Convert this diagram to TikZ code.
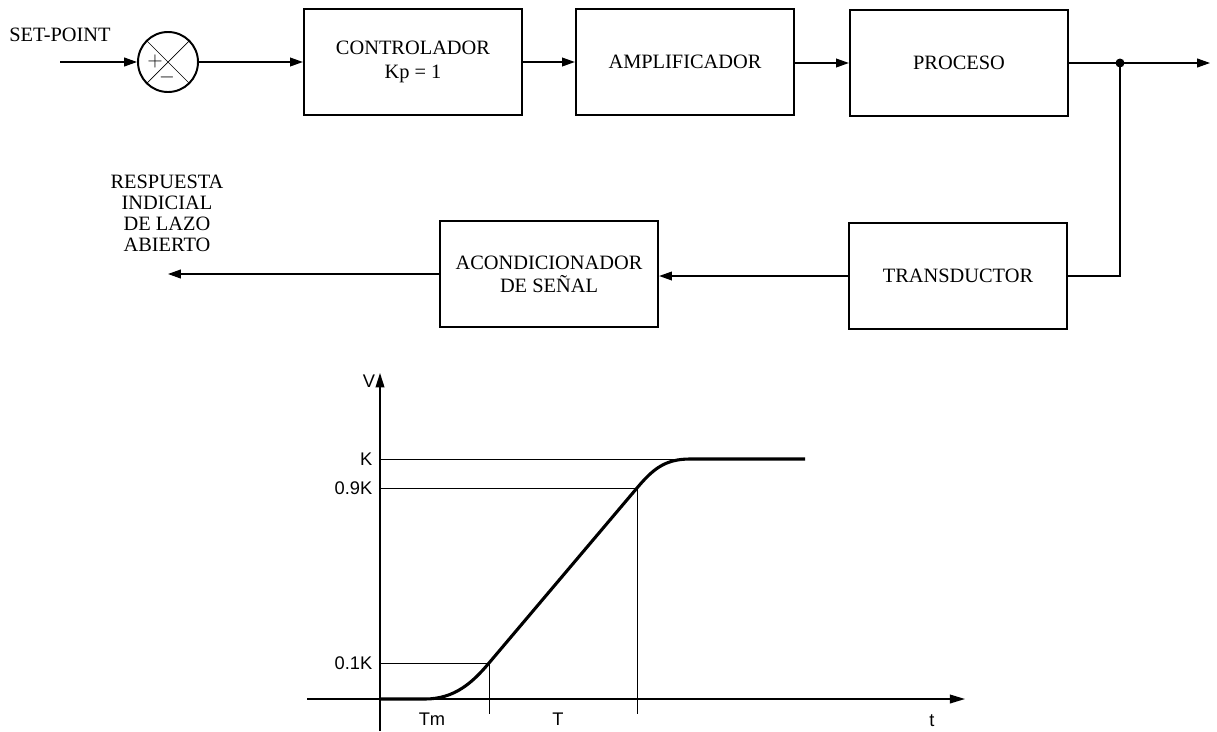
\documentclass[tikz,border=0pt]{standalone}
\usepackage{fontspec}
\setmainfont{Liberation Serif}
\setsansfont{Liberation Sans}
\usetikzlibrary{arrows.meta}

\tikzset{
  blk/.style={draw,line width=1.6pt,align=center,inner sep=0pt,
    minimum width=5.45cm,minimum height=2.65cm,
    font=\fontsize{14.5}{16.5}\selectfont},
  flow/.style={line width=0.9pt,-{Triangle[length=3.2mm,width=2.2mm]}},
  wire/.style={line width=0.9pt},
  guide/.style={line width=0.6pt},
  curva/.style={line width=2.2pt,line join=round},
  lbl/.style={font=\sffamily\fontsize{13}{15}\selectfont,inner sep=1pt},
}

\begin{document}
\begin{tikzpicture}[x=0.025cm,y=-0.025cm]
  \useasboundingbox (0,0) rectangle (1217,731);

  % lazo de control
  \node[font=\fontsize{14.5}{16}\selectfont] (sp) at (60,35) {SET-POINT};
  \coordinate (in) at (60,62);
  \node[draw,circle,line width=1.4pt,minimum size=1.5cm,inner sep=0pt] (sum) at (168,62) {};
  \draw[line width=0.5pt] (sum.45) -- (sum.225) (sum.135) -- (sum.-45);
  \node[font=\fontsize{15}{15}\selectfont,inner sep=0pt] (plus) at (155,61) {$+$};
  \node[font=\fontsize{15}{15}\selectfont,inner sep=0pt] (minus) at (167,77) {$-$};

  \node[blk] (ctrl)  at (413,62)  {CONTROLADOR\\Kp = 1};
  \node[blk] (amp)   at (685,62)  {AMPLIFICADOR};
  \node[blk] (proc)  at (959,63)  {PROCESO};
  \node[blk] (trans) at (958,276) {TRANSDUCTOR};
  \node[blk] (acond) at (549,274) {ACONDICIONADOR\\DE SEÑAL};

  \coordinate (tap) at (1120,63);
  \coordinate (out) at (1210,63);
  \coordinate (resp) at (168,274);
  \node[align=center,font=\fontsize{14.5}{15}\selectfont] (txt) at (167,213)
    {RESPUESTA\\INDICIAL\\DE LAZO\\ABIERTO};

  \draw[flow] (in) -- (sum.west);
  \draw[flow] (sum.east) -- (sum.east -| ctrl.west);
  \draw[flow] (ctrl.east |- sum) -- (amp.west |- sum);
  \draw[flow] (amp.east |- tap) -- (proc.west |- tap);
  \draw[flow] (proc.east |- tap) -- (out);
  \fill (tap) circle (4.5);
  \draw[wire] (tap) |- (trans.east);
  \draw[flow] (trans.west) -- (trans.west -| acond.east);
  \draw[flow] (acond.west) -- (resp);

  % respuesta indicial
  \draw[line width=1pt,-{Triangle[length=3.6mm,width=2.2mm]}] (380,731) -- (380,373);
  \draw[line width=1pt,-{Triangle[length=3.8mm,width=2.2mm]}] (307,699) -- (965,699);
  \draw[guide] (380,459) -- (805,459);
  \draw[guide] (380,488) -| (637,714);
  \draw[guide] (380,663) -| (489,714);
  \draw[curva] (380,699) -- (425,699) .. controls (455,699) and (473,682) .. (489,663)
    -- (637,488) .. controls (653,469) and (665,459) .. (690,459) -- (805,459);

  \node[lbl] (v)   at (369,381) {V};
  \node[lbl,anchor=east] (k)   at (374,459) {K};
  \node[lbl,anchor=east] (k09) at (374,488) {0.9K};
  \node[lbl,anchor=east] (k01) at (374,663) {0.1K};
  \node[lbl] (tm)  at (432,719) {Tm};
  \node[lbl] (tt)  at (558,719) {T};
  \node[lbl] (t)   at (932,721) {t};
\end{tikzpicture}
\end{document}
